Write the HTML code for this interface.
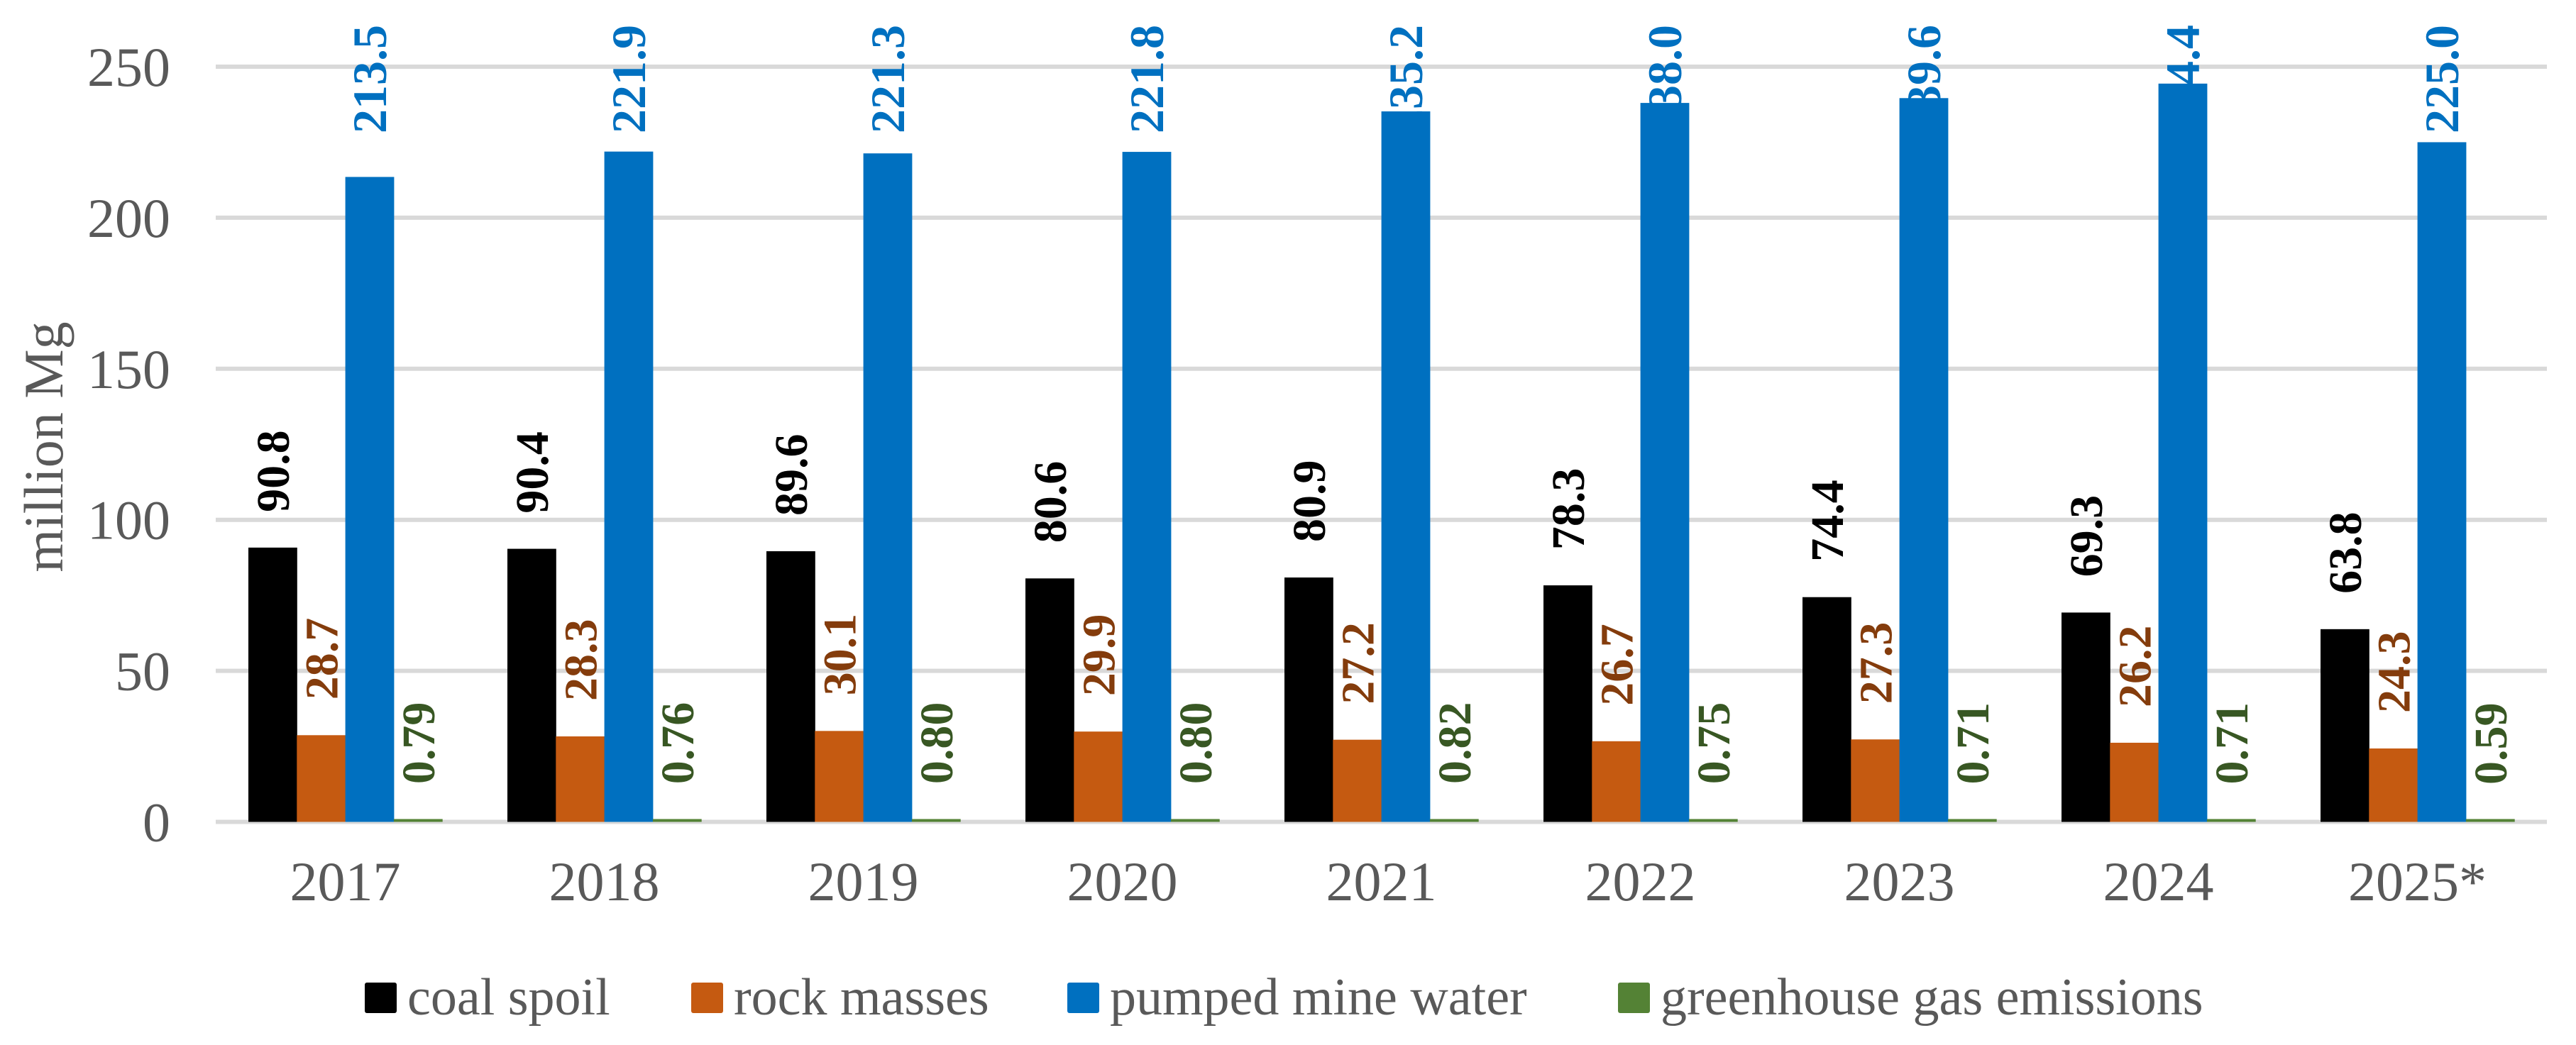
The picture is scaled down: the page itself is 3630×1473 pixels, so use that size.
<!DOCTYPE html>
<html><head><meta charset="utf-8"><style>
html,body{margin:0;padding:0;background:#fff;}
svg{display:block;font-family:"Liberation Serif",serif;}
</style></head><body>
<svg id="chart" width="3630" height="1473" viewBox="0 0 3630 1473" xmlns="http://www.w3.org/2000/svg">
<g id="grid"></g>
<g id="yticks"></g>
<text transform="translate(88,630) rotate(-90)" text-anchor="middle" font-size="78" fill="#595959">million Mg</text>
<g id="labels"></g>
<g id="bars"></g>
<g id="xticks"></g>
<g id="legend"></g>
</svg>
<script>
const categories = ["2017","2018","2019","2020","2021","2022","2023","2024","2025*"];
const coalSpoil = [90.8,90.4,89.6,80.6,80.9,78.3,74.4,69.3,63.8];
const rockMasses = [28.7,28.3,30.1,29.9,27.2,26.7,27.3,26.2,24.3];
const pumpedWater = [213.5,221.9,221.3,221.8,235.2,238.0,239.6,244.4,225.0];
const ghgEmissions = [0.79,0.76,0.80,0.80,0.82,0.75,0.71,0.71,0.59];
const yTicks = [0,50,100,150,200,250];
const seriesNames = ["coal spoil","rock masses","pumped mine water","greenhouse gas emissions"];

const NS="http://www.w3.org/2000/svg";
const x0=304, catW=365, y0=1158.5, pxPer=4.258, barW=68.3, barOff=46;
const yPos=v=>y0-v*pxPer;
const catX=i=>x0+i*catW;
function mk(tag,attrs,parent){const e=document.createElementNS(NS,tag);for(const k in attrs)e.setAttribute(k,attrs[k]);parent.appendChild(e);return e;}
const grid=document.getElementById('grid'), yt=document.getElementById('yticks');
yTicks.forEach(v=>{
  const l=mk('line',{x1:x0,x2:x0+9*catW,y1:yPos(v),y2:yPos(v),stroke:'#D9D9D9','stroke-width':6},grid);
  
  
  const t=mk('text',{x:240,y:yPos(v)+27,'text-anchor':'end','font-size':78,fill:'#595959'},yt);
  t.textContent=v;
  
  
});
const series=[
 {vals:coalSpoil,fill:'#000000',lab:'#000000',name:'coal'},
 {vals:rockMasses,fill:'#C55A11',lab:'#843C0C',name:'rock'},
 {vals:pumpedWater,fill:'#0070C0',lab:'#0070C0',name:'water'},
 {vals:ghgEmissions,fill:'#548235',lab:'#385723',name:'ghg'}
];
const bars=document.getElementById('bars'), labs=document.getElementById('labels'), xt=document.getElementById('xticks');
categories.forEach((c,i)=>{
  series.forEach((s,j)=>{
    const v=s.vals[i], bx=catX(i)+barOff+j*barW, top=yPos(v);
    const h=Math.max(y0-top,4);
    const r=mk('rect',{x:bx,y:y0-h,width:barW+0.5,height:h,fill:s.fill},bars);
    
    
    const txt=(j===3)?v.toFixed(2):v.toFixed(1);
    const cx=bx+barW/2+23;
    let t;
    if(j===2){
      t=mk('text',{transform:`translate(${cx},35) rotate(-90)`,'text-anchor':'end','font-size':68,'font-weight':'bold',fill:s.lab},labs);
    } else {
      t=mk('text',{transform:`translate(${cx},${top-50}) rotate(-90)`,'font-size':66,'font-weight':'bold',fill:s.lab},labs);
    }
    t.textContent=txt;
    
    
  });
  const t=mk('text',{x:catX(i)+catW/2,y:1269,'text-anchor':'middle','font-size':78,fill:'#595959'},xt);
  t.textContent=c;
  
  
});
const leg=document.getElementById('legend');
const legX=[514,974,1504,2280];
seriesNames.forEach((n,j)=>{
  const g=mk('g',{},leg);
  
  
  mk('rect',{x:legX[j],y:1385,width:45,height:43,rx:3,fill:series[j].fill},g);
  const t=mk('text',{x:legX[j]+60,y:1430,'font-size':74,fill:'#595959'},g);
  t.textContent=n;
});
</script>
</body></html>
